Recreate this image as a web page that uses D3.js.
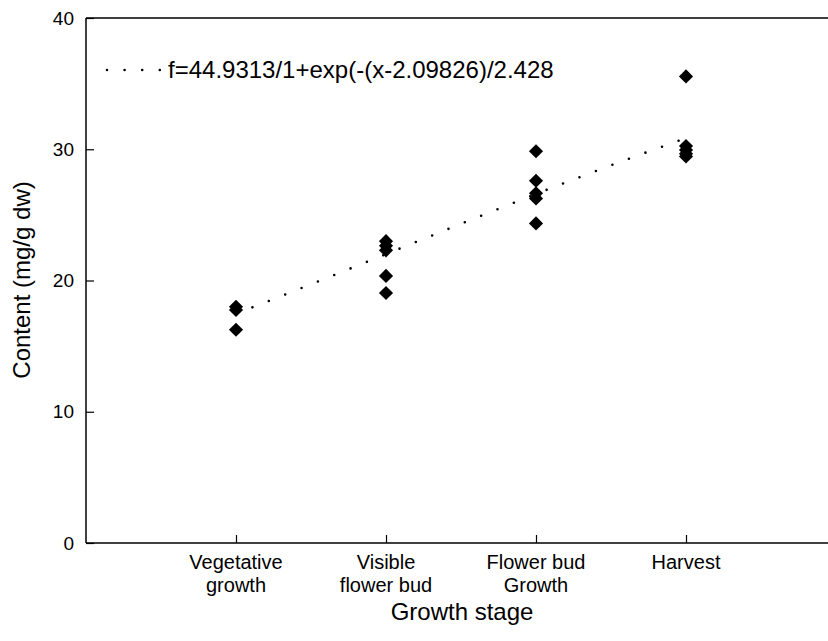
<!DOCTYPE html>
<html>
<head>
<meta charset="utf-8">
<script src="https://cdn.jsdelivr.net/npm/d3@7"></script>
<style>
  body { margin: 0; background: #fff; }
  svg { display: block; }
  text { font-family: "Liberation Sans", Arial, sans-serif; fill: #000; }
</style>
</head>
<body>
<div id="chart"></div>
<script>
// data
var stages = [["Vegetative", "growth"], ["Visible", "flower bud"], ["Flower bud", "Growth"], ["Harvest"]];
var vegetative = [18.0, 17.75, 16.25];
var visible = [23.0, 22.65, 22.3, 20.35, 19.05];
var flowerBud = [29.85, 27.6, 26.65, 26.25, 24.35];
var harvest = [35.55, 30.25, 29.95, 29.65, 29.45];
var yTicks = [0, 10, 20, 30, 40];
// fitted sigmoid parameters (from the legend)
var fitA = 44.9313, fitX0 = 2.09826, fitB = 2.428;
var legendLabel = "f=44.9313/1+exp(-(x-2.09826)/2.428";

var width = 828, height = 641;
var plotLeft = 86, plotTop = 18, plotBottom = 543;

var svg = d3.select("#chart").append("svg")
    .attr("width", width)
    .attr("height", height);

var x = d3.scaleLinear().domain([0, 5]).range([plotLeft, 836]);
var y = d3.scaleLinear().domain([0, 40]).range([plotBottom, plotTop]);

// frame: left, bottom and top lines
svg.append("line").attr("x1", plotLeft).attr("x2", plotLeft).attr("y1", plotTop).attr("y2", plotBottom)
    .attr("stroke", "#000").attr("stroke-width", 1.5);
svg.append("line").attr("x1", plotLeft).attr("x2", width).attr("y1", plotBottom).attr("y2", plotBottom)
    .attr("stroke", "#000").attr("stroke-width", 1.5);
svg.append("line").attr("x1", plotLeft).attr("x2", width).attr("y1", plotTop).attr("y2", plotTop)
    .attr("stroke", "#000").attr("stroke-width", 1.5);

// y axis
var yAxis = svg.append("g")
    .attr("transform", "translate(" + plotLeft + ",0)")
    .call(d3.axisLeft(y).tickValues(yTicks).tickSizeInner(-8).tickSizeOuter(0).tickPadding(12));
yAxis.select(".domain").remove();
yAxis.selectAll("line").attr("stroke-width", 1.2);
yAxis.selectAll("text").attr("font-size", "19px").attr("font-family", "Liberation Sans, Arial, sans-serif");

// x axis
var xAxis = svg.append("g")
    .attr("transform", "translate(0," + plotBottom + ")")
    .call(d3.axisBottom(x).tickValues([1, 2, 3, 4]).tickSizeInner(-8).tickSizeOuter(0).tickFormat(""));
xAxis.select(".domain").remove();
xAxis.selectAll("line").attr("stroke-width", 1.2);

stages.forEach(function(lines, i) {
    var t = svg.append("text")
        .attr("x", x(i + 1))
        .attr("y", 569)
        .attr("text-anchor", "middle")
        .attr("font-size", "20px");
    lines.forEach(function(s, j) {
        t.append("tspan").attr("x", x(i + 1)).attr("dy", j == 0 ? 0 : 23).text(s);
    });
});

// axis titles
svg.append("text")
    .attr("x", 462).attr("y", 620)
    .attr("text-anchor", "middle")
    .attr("font-size", "24px")
    .text("Growth stage");
svg.append("text")
    .attr("transform", "translate(30,280) rotate(-90)")
    .attr("text-anchor", "middle")
    .attr("font-size", "24px")
    .text("Content (mg/g dw)");

// fitted curve, dotted
var fit = function(v) { return fitA / (1 + Math.exp(-(v - fitX0) / fitB)); };
var curve = d3.range(0, 61).map(function(i) { return 1 + i * 0.05; });
svg.append("path")
    .datum(curve)
    .attr("d", d3.line().x(function(d) { return x(d); }).y(function(d) { return y(fit(d)); }))
    .attr("fill", "none")
    .attr("stroke", "#000")
    .attr("stroke-width", 2.6)
    .attr("stroke-linecap", "round")
    .attr("stroke-dasharray", "0 17.6");

// points
var groups = [vegetative, visible, flowerBud, harvest];
var diamond = d3.symbol().type(d3.symbolDiamond2).size(128);
groups.forEach(function(vals, i) {
    svg.selectAll(null)
        .data(vals)
        .enter().append("path")
        .attr("d", diamond)
        .attr("transform", function(d) { return "translate(" + x(i + 1) + "," + y(d) + ")"; })
        .attr("fill", "#000");
});

// legend
svg.append("line")
    .attr("x1", 107).attr("x2", 160).attr("y1", 70).attr("y2", 70)
    .attr("stroke", "#000")
    .attr("stroke-width", 2.6)
    .attr("stroke-linecap", "round")
    .attr("stroke-dasharray", "0 17.6");
svg.append("text")
    .attr("x", 168).attr("y", 78)
    .attr("font-size", "24px")
    .text(legendLabel);
</script>
</body>
</html>
